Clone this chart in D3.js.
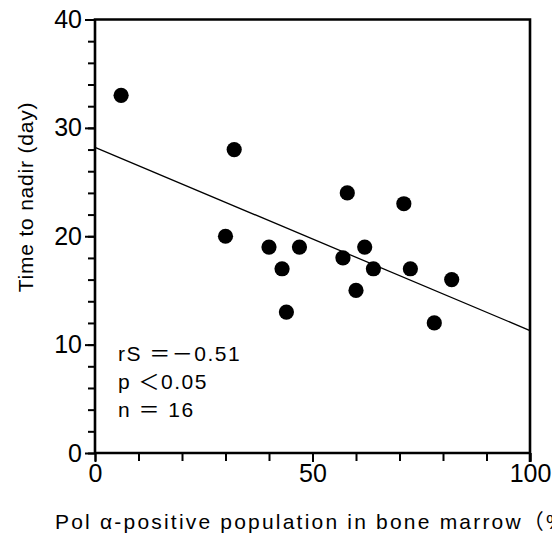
<!DOCTYPE html>
<html>
<head>
<meta charset="utf-8">
<script src="https://cdn.jsdelivr.net/npm/d3@7"></script>
<style>
  body { margin: 0; background: #fff; overflow: hidden; }
  text { font-family: "Liberation Sans", Arial, "Noto Sans CJK JP", sans-serif; fill: #000; }
</style>
</head>
<body>
<script>
var width = 552,
  height = 536;

// data
var polAlpha = [6, 32, 30, 40, 43, 47, 44, 57, 58, 60, 62, 64, 71, 72.5, 78, 82];
var nadirDay = [33, 28, 20, 19, 17, 19, 13, 18, 24, 15, 19, 17, 23, 17, 12, 16];
var fitX = [0, 100];
var fitY = [28.2, 11.3];
var xTicks = [0, 50, 100];
var yTicks = [0, 10, 20, 30, 40];
var statLines = ["rS \uff1d\uff0d0.51", "p \uff1c0.05", "n \uff1d 16"];

// plot box (window.top is taken, so don't call it "top")
var plotL = 95, plotR = 530, plotT = 19.5, plotB = 453;

var x = d3.scaleLinear().domain([0, 100]).range([plotL, plotR]);
var y = d3.scaleLinear().domain([0, 40]).range([plotB, plotT]);

var svg = d3.select("body").append("svg")
  .attr("width", width)
  .attr("height", height);

// axes - minor ticks first, then major ticks with labels
svg.append("g")
  .attr("transform", "translate(" + plotL + ",0)")
  .call(d3.axisLeft(y).tickValues(d3.range(0, 41, 2)).tickSize(7).tickFormat(""))
  .call(g => g.select(".domain").remove());
svg.append("g")
  .attr("transform", "translate(" + plotL + ",0)")
  .call(d3.axisLeft(y).tickValues(yTicks).tickSize(10).tickPadding(3))
  .call(g => g.select(".domain").remove())
  .selectAll("text").style("font-size", "25px");

svg.append("g")
  .attr("transform", "translate(0," + plotB + ")")
  .call(d3.axisBottom(x).tickValues(d3.range(0, 101, 10)).tickSize(8).tickFormat(""))
  .call(g => g.select(".domain").remove());
svg.append("g")
  .attr("transform", "translate(0," + plotB + ")")
  .call(d3.axisBottom(x).tickValues(xTicks).tickSize(9).tickPadding(2))
  .call(g => g.select(".domain").remove())
  .selectAll("text").style("font-size", "25px");

svg.selectAll(".tick line").attr("stroke", "#000").attr("stroke-width", 2);

// frame
svg.append("path")
  .attr("d", "M" + plotL + "," + plotB + "V" + plotT + "H" + plotR + "V" + (plotB + 9) + "M" + plotL + "," + plotB + "H" + plotR)
  .attr("fill", "none")
  .attr("stroke", "#000")
  .attr("stroke-width", 2.6);

// regression line
svg.append("line")
  .attr("x1", x(fitX[0])).attr("y1", y(fitY[0]))
  .attr("x2", x(fitX[1])).attr("y2", y(fitY[1]))
  .attr("stroke", "#000")
  .attr("stroke-width", 1.3);

// points
svg.selectAll("circle")
  .data(polAlpha.map(function(v, i) { return {x: v, y: nadirDay[i]}; }))
  .enter().append("circle")
  .attr("cx", function(d) { return x(d.x); })
  .attr("cy", function(d) { return y(d.y); })
  .attr("r", 7.6)
  .attr("fill", "#000");

// stats
svg.selectAll(".stat")
  .data(statLines)
  .enter().append("text")
  .attr("class", "stat")
  .attr("x", 118)
  .attr("y", function(d, i) { return 361 + i * 28; })
  .style("font-size", "21px")
  .style("letter-spacing", "1.5px")
  .text(function(d) { return d; });

// axis titles
svg.append("text")
  .attr("transform", "translate(33,197) rotate(-90)")
  .attr("text-anchor", "middle")
  .style("font-size", "21px")
  .style("letter-spacing", "0.8px")
  .text("Time to nadir (day)");

svg.append("text")
  .attr("x", 55)
  .attr("y", 529)
  .style("font-size", "21px")
  .style("letter-spacing", "2.2px")
  .text("Pol \u03b1-positive population in bone marrow\uff08%\uff09");
</script>
</body>
</html>
